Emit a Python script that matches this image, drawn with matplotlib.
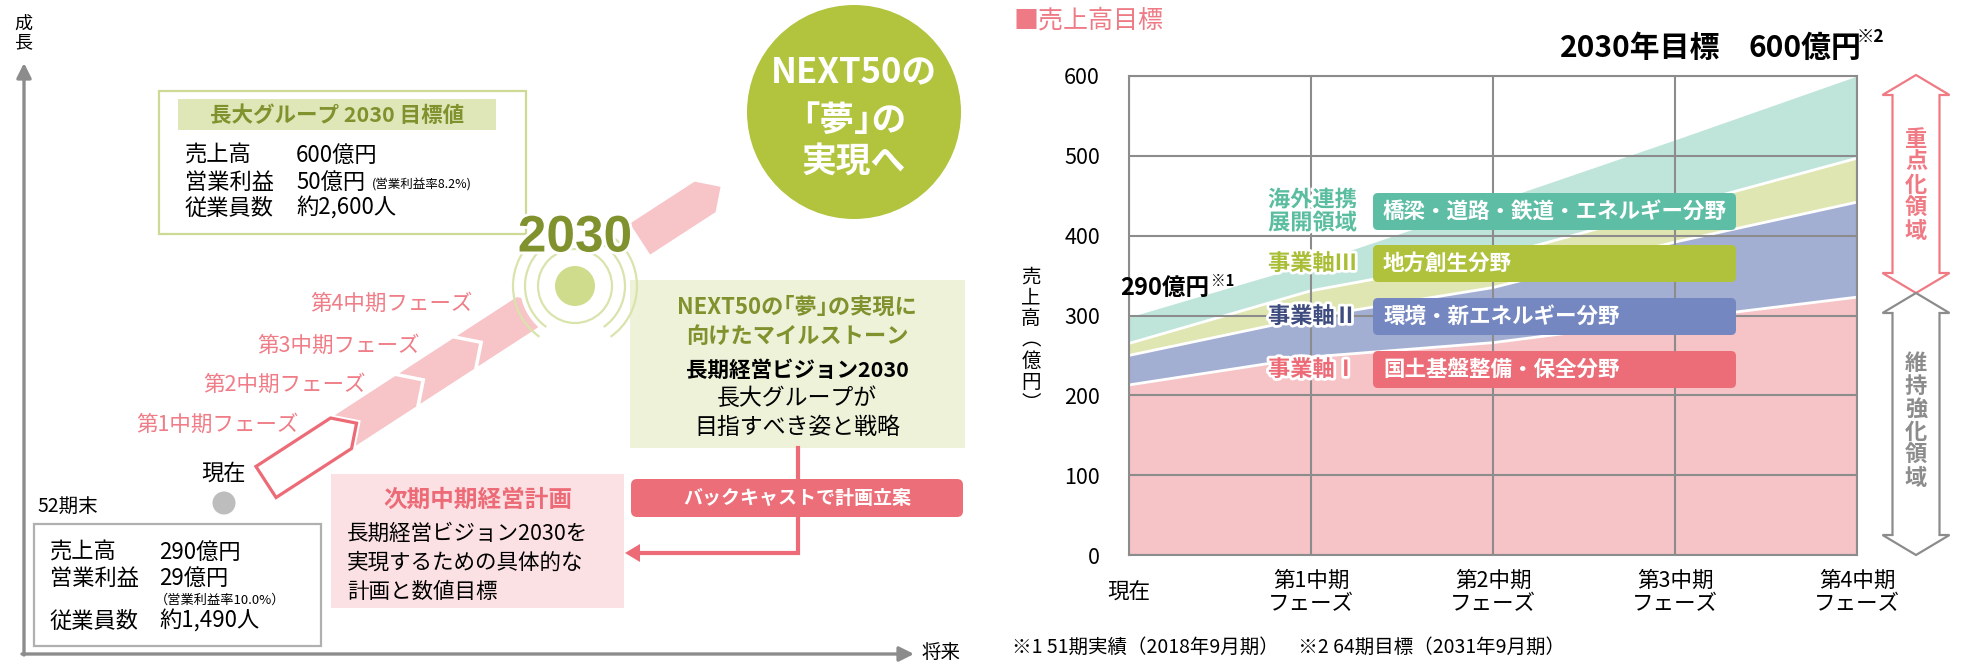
import matplotlib
matplotlib.use("Agg")
import matplotlib.pyplot as plt
import matplotlib.patheffects as pe
from matplotlib.patches import Rectangle, Polygon, Circle, FancyBboxPatch, Arc
import numpy as np

plt.rcParams['font.family'] = ['Noto Sans CJK JP', 'DejaVu Sans']

W, H = 1968, 662

# --- chart data (億円), stacked by business axis ---
phases = ['現在', '第1中期\nフェーズ', '第2中期\nフェーズ', '第3中期\nフェーズ', '第4中期\nフェーズ']
axis1 = [213, 248, 266, 295, 323]      # 事業軸Ⅰ
axis2 = [37, 50, 69, 97, 119]          # 事業軸Ⅱ
axis3 = [15, 33, 38, 43, 55]           # 事業軸Ⅲ
overseas = [33, 34, 69, 85, 103]       # 海外連携展開領域

layer_names = ['事業軸Ⅰ', '事業軸Ⅱ', '事業軸Ⅲ', '海外連携\n展開領域']
layer_fields = ['国土基盤整備・保全分野', '環境・新エネルギー分野', '地方創生分野',
                '橋梁・道路・鉄道・エネルギー分野']

# --- left diagram text ---
goal_rows = [('売上高', '600億円'), ('営業利益', '50億円'), ('従業員数', '約2,600人')]
now_rows = [('売上高', '290億円'), ('営業利益', '29億円'), ('従業員数', '約1,490人')]
phase_labels = ['第1中期フェーズ', '第2中期フェーズ', '第3中期フェーズ', '第4中期フェーズ']

RED = '#ec6b77'
PINK = '#f7c4c8'
OLIVE = '#7f922e'
GRAY = '#8c8c8c'

fig = plt.figure(figsize=(W / 100, H / 100), dpi=100)
ax = fig.add_axes([1129 / W, 1 - 555 / H, 728 / W, 479 / H])
ov = fig.add_axes([0, 0, 1, 1], zorder=10)
ov.set_xlim(0, W)
ov.set_ylim(H, 0)
ov.axis('off')

# ================= right: stacked area chart =================
x = np.arange(len(phases))
fills = ['#f6c3c7', '#a3aed3', '#dfe6b1', '#bfe5db']
base = np.zeros(len(x))
tops = []
for vals, c in zip([axis1, axis2, axis3, overseas], fills):
    top = base + np.array(vals)
    ax.fill_between(x, base, top, color=c, lw=0, zorder=1)
    tops.append(top)
    base = top
for top in tops[:3]:
    ax.plot(x, top, color='white', lw=2, zorder=1.5)

ax.set_xlim(0, 4)
ax.set_ylim(0, 600)
ax.set_xticks(x)
ax.set_xticklabels(phases)
ax.set_yticks(range(0, 601, 100))
ax.grid(True, color=GRAY, lw=1.5)
ax.set_axisbelow(False)
for sp in ax.spines.values():
    sp.set_color(GRAY)
    sp.set_linewidth(1.5)
ax.tick_params(length=0, labelsize=15.5)
ax.tick_params(axis='y', pad=21)
ax.tick_params(axis='x', pad=27)
for lab in ax.get_xticklabels():
    lab.set_verticalalignment('center')
    lab.set_linespacing(1.1)

# layer labels + field boxes
name_colors = ['#ec6b77', '#3d4b7f', '#a9bd35', '#5bbd9f']
box_colors = ['#ec6d78', '#7587c0', '#b0c23b', '#5dbea5']
box_y = [351, 298, 245, 193]
for i in range(4):
    y0 = box_y[i]
    ov.add_patch(FancyBboxPatch((1373, y0), 363, 37, boxstyle='round,pad=0,rounding_size=5',
                                fc=box_colors[i], ec='none', zorder=3))
    ov.text(1383, y0 + 18.5, layer_fields[i], color='white', fontsize=15.5, fontweight='bold',
            va='center', ha='left', zorder=4)
    ov.text(1357, y0 + 18.5, layer_names[i], color=name_colors[i], fontsize=16, fontweight='bold',
            va='center', ha='right', linespacing=1.0, zorder=4,
            path_effects=[pe.withStroke(linewidth=4, foreground='white')])

ov.text(1120, 288, '290億円', fontsize=17, fontweight='bold', va='center', ha='left')
ov.text(1211, 281, '※1', fontsize=10.5, fontweight='bold', va='center', ha='left')

ov.text(1013, 20, '■売上高目標', color='#ee7a85', fontsize=18, va='center', ha='left')
ov.text(1560, 48, '2030年目標', fontsize=21.5, fontweight='bold', va='center', ha='left')
ov.text(1748, 48, '600億円', fontsize=21.5, fontweight='bold', va='center', ha='left')
ov.text(1857, 37, '※2', fontsize=12.5, fontweight='bold', va='center', ha='left')

ov.text(1031, 340, '売\n上\n高\n︵\n億\n円\n︶', fontsize=14, ha='center', va='center',
        linespacing=1.0)
ov.text(1012, 647, '※1 51期実績（2018年9月期）　※2 64期目標（2031年9月期）',
        fontsize=14, va='center', ha='left')

# right double arrows
def dbl_arrow(ytop, ybot, color):
    cx, sw, hw2, hh = 1916, 23.5, 33.5, 20
    pts = [(cx, ytop), (cx + hw2, ytop + hh), (cx + sw, ytop + hh), (cx + sw, ybot - hh),
           (cx + hw2, ybot - hh), (cx, ybot), (cx - hw2, ybot - hh), (cx - sw, ybot - hh),
           (cx - sw, ytop + hh), (cx - hw2, ytop + hh)]
    ov.add_patch(Polygon(pts, closed=True, fc='white', ec=color, lw=1.6, zorder=2))

dbl_arrow(75, 293, '#ef7a84')
dbl_arrow(293, 555, GRAY)
ov.text(1916, 185, '重\n点\n化\n領\n域', color='#ef7a84', fontsize=16, fontweight='bold',
        ha='center', va='center', linespacing=1.0, zorder=3)
ov.text(1916, 421, '維\n持\n強\n化\n領\n域', color=GRAY, fontsize=16, fontweight='bold',
        ha='center', va='center', linespacing=1.0, zorder=3)

# ================= left: roadmap diagram =================
arrow_kw = dict(arrowstyle='-|>', color=GRAY, lw=2.4, mutation_scale=22,
                shrinkA=0, shrinkB=0)
ov.annotate('', xy=(24, 63), xytext=(24, 655), arrowprops=arrow_kw)
ov.annotate('', xy=(914, 654), xytext=(22, 654), arrowprops=arrow_kw)
ov.text(23, 33, '成\n長', fontsize=13, ha='center', va='center', linespacing=1.1)
ov.text(922, 653, '将来', fontsize=14, ha='left', va='center')

# target box
ov.add_patch(Rectangle((159, 91), 367, 143, fc='white', ec='#cdda94', lw=1.6, zorder=1))
ov.add_patch(Rectangle((178, 99), 318, 31, fc='#dfe7b8', ec='none', zorder=1.1))
ov.text(337, 115, '長大グループ 2030 目標値', color=OLIVE, fontsize=15.5, fontweight='bold',
        ha='center', va='center', zorder=2)
for (k, v), yy in zip(goal_rows, [155, 182, 208]):
    ov.text(185, yy, k, fontsize=16, ha='left', va='center', zorder=2)
    ov.text(296, yy, v, fontsize=16, ha='left', va='center', zorder=2)
ov.text(372, 185, '(営業利益率8.2%)', fontsize=9, ha='left', va='center', zorder=2)

# growth band (chevrons)
ang = np.deg2rad(33)
u = np.array([np.cos(ang), -np.sin(ang)])
nv = np.array([np.sin(ang), np.cos(ang)])
p0 = np.array([266.0, 482.0])
hw = 18.5

def seg(s0, s1, notch):
    g = 5
    loc = [(s0 - 19 + g if notch else s0, -hw), (s1 - 19, -hw), (s1, 0),
           (s1 - 18, hw), (s0 - 18 + g if notch else s0, hw)]
    if notch:
        loc.append((s0 + g, 0))
    return [tuple(p0 + s * u + t * nv) for s, t in loc]

for s0, s1, notch in [(108, 185, True), (185, 254, True), (254, 330, True), (446, 542, False)]:
    ov.add_patch(Polygon(seg(s0, s1, notch), closed=True, fc=PINK, ec='none', zorder=1.5))
ov.add_patch(Polygon(seg(0, 108, False), closed=True, fc='white', ec=RED, lw=2.3,
                     joinstyle='miter', zorder=2))

for lab, (lx, ly) in zip(phase_labels, [(136, 425), (203, 385), (257, 346), (310, 304)]):
    ov.text(lx, ly, lab, color='#ef7c86', fontsize=15.5, ha='left', va='center', zorder=2)

# 2030 target mark
cc = (575, 286)
ov.add_patch(Circle(cc, 55, fc='white', ec='none', zorder=2.5))
ov.add_patch(Circle(cc, 37, fc='none', ec='#d9e4ad', lw=1.6, zorder=2.6))
for r in [50, 62]:
    for t1, t2 in [(-55, 55), (125, 235)]:
        ov.add_patch(Arc(cc, 2 * r, 2 * r, theta1=t1, theta2=t2, color='#d9e4ad', lw=1.6, zorder=2.6))
ov.add_patch(Circle(cc, 20, fc='#cfdc8c', ec='none', zorder=2.7))
ov.text(575, 238, '2030', color=OLIVE, fontsize=37, fontweight='bold', family='Liberation Sans',
        ha='center', va='center', zorder=3,
        path_effects=[pe.withStroke(linewidth=4, foreground='white')])

# NEXT50 circle
ov.add_patch(Circle((854, 112), 107, fc='#b2c43e', ec='none', zorder=2))
for txt, yy in [('NEXT50の', 72), ('｢夢｣の', 120), ('実現へ', 162)]:
    ov.text(854, yy, txt, color='white', fontsize=25, fontweight='bold', ha='center',
            va='center', zorder=3)

# current state
ov.add_patch(Circle((224, 503), 11.5, fc='#bdbdbd', ec='none', zorder=2))
ov.text(224, 473, '現在', fontsize=16, ha='center', va='center', zorder=2)
ov.text(37, 507, '52期末', fontsize=14, ha='left', va='center', zorder=2)
ov.add_patch(Rectangle((34, 524), 287, 122, fc='white', ec='#b0b0b0', lw=1.6, zorder=1))
for (k, v), yy in zip(now_rows, [552, 578, 621]):
    ov.text(50, yy, k, fontsize=16, ha='left', va='center', zorder=2)
    ov.text(159, yy, v, fontsize=16, ha='left', va='center', zorder=2)
ov.text(155, 600, '（営業利益率10.0%）', fontsize=9.5, ha='left', va='center', zorder=2)

# next mid-term plan box
ov.add_patch(Rectangle((331, 474), 293, 134, fc='#fbe1e4', ec='none', zorder=1))
ov.text(478, 500, '次期中期経営計画', color=RED, fontsize=17, fontweight='bold',
        ha='center', va='center', zorder=2)
for txt, yy in zip(['長期経営ビジョン2030を', '実現するための具体的な', '計画と数値目標'], [534, 563, 592]):
    ov.text(347, yy, txt, fontsize=15.5, ha='left', va='center', zorder=2)

# vision box
ov.add_patch(Rectangle((630, 280), 335, 168, fc='#eef2d9', ec='none', zorder=1))
ov.text(797, 307, 'NEXT50の｢夢｣の実現に', color=OLIVE, fontsize=16, fontweight='bold',
        ha='center', va='center', zorder=2)
ov.text(797, 336, '向けたマイルストーン', color=OLIVE, fontsize=16, fontweight='bold',
        ha='center', va='center', zorder=2)
ov.text(797, 370, '長期経営ビジョン2030', fontsize=15.5, fontweight='bold',
        ha='center', va='center', zorder=2)
ov.text(797, 398, '長大グループが', fontsize=16.5, ha='center', va='center', zorder=2)
ov.text(797, 427, '目指すべき姿と戦略', fontsize=16.5, ha='center', va='center', zorder=2)

# backcast connector
ov.plot([798, 798, 640], [448, 553, 553], color=RED, lw=3, solid_joinstyle='miter', zorder=1.5)
ov.add_patch(Polygon([(625, 553), (640, 544), (640, 562)], closed=True, fc=RED, ec='none', zorder=1.5))
ov.add_patch(FancyBboxPatch((631, 479), 332, 38, boxstyle='round,pad=0,rounding_size=6',
                            fc='#ec6e78', ec='none', zorder=2))
ov.text(797, 498, 'バックキャストで計画立案', color='white', fontsize=13.7, fontweight='bold',
        ha='center', va='center', zorder=3)

fig.savefig('out.png', dpi=100)
